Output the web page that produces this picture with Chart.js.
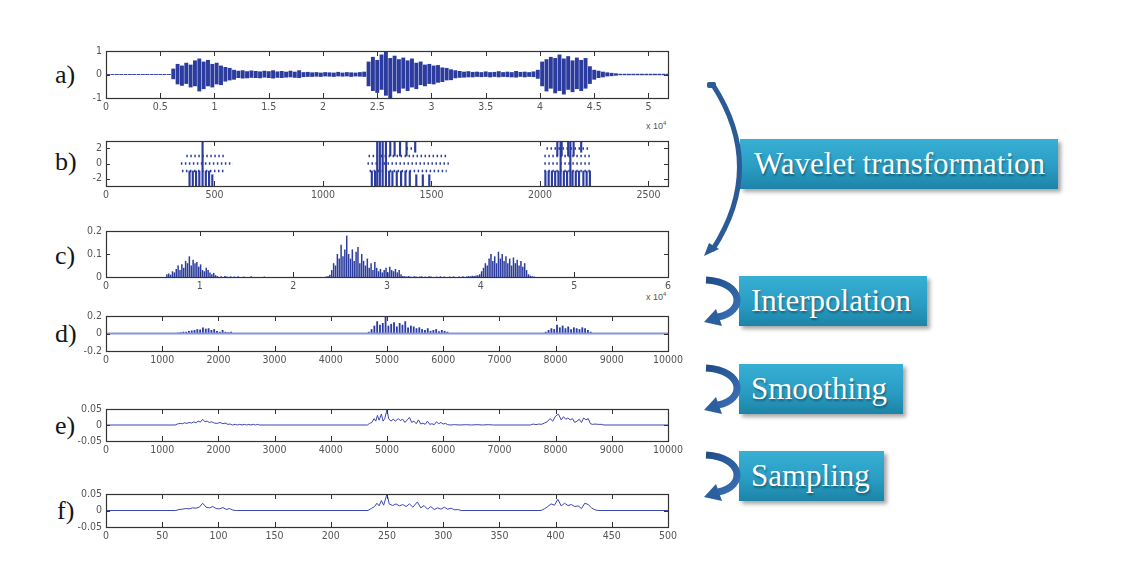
<!DOCTYPE html>
<html>
<head>
<meta charset="utf-8">
<script src="https://cdn.jsdelivr.net/npm/chart.js"></script>
<style>
  html, body { margin: 0; padding: 0; background: #fff; }
  #stage { position: relative; width: 1134px; height: 576px; overflow: hidden; }
  .letter { position: absolute; font-family: "Liberation Serif", "Times New Roman", serif; font-size: 26px; line-height: 26px; color: #151515; }
  .exp { position: absolute; font-family: "Liberation Sans Narrow", "Liberation Sans", Arial, sans-serif; font-size: 9px; color: #555; white-space: nowrap; }
  .exp sup { font-size: 6px; vertical-align: 4px; }
  .step { position: absolute; height: 50px; box-sizing: border-box; white-space: nowrap;
    background: linear-gradient(to bottom, #38afd4 0%, #2a9dc4 55%, #1c84a7 100%);
    box-shadow: 3px 3px 4px rgba(0,0,0,0.35);
    color: #fff; font-family: "Liberation Serif", "Times New Roman", serif; font-size: 31px; line-height: 50px;
    text-shadow: 1px 2px 2px rgba(0,0,0,0.35); }
  svg { position: absolute; left: 0; top: 0; }
</style>
</head>
<body>
<div id="stage">
  <div class="letter" style="left:55px;top:62px">a)</div>
  <div class="letter" style="left:55px;top:149px">b)</div>
  <div class="letter" style="left:55px;top:243px">c)</div>
  <div class="letter" style="left:55px;top:321px">d)</div>
  <div class="letter" style="left:55px;top:413px">e)</div>
  <div class="letter" style="left:57px;top:498px">f)</div>

  <div class="exp" style="left:646px;top:120px">x 10<sup>4</sup></div>
  <div class="exp" style="left:646px;top:291px">x 10<sup>4</sup></div>

  <div class="step" style="left:740px;top:139px;width:318px;padding-left:14px">Wavelet transformation</div>
  <div class="step" style="left:739px;top:276px;width:188px;padding-left:12px">Interpolation</div>
  <div class="step" style="left:739px;top:364px;width:164px;padding-left:12px">Smoothing</div>
  <div class="step" style="left:739px;top:451px;width:145px;padding-left:12px">Sampling</div>

  <svg width="1134" height="576" id="arrows">
    <defs>
      <linearGradient id="ag" x1="0" y1="0" x2="1" y2="1">
        <stop offset="0" stop-color="#1f4d8a"/>
        <stop offset="1" stop-color="#3a70b4"/>
      </linearGradient>
    </defs>
    <path d="M713 85 Q766 167 713 249" fill="none" stroke="#2b5b96" stroke-width="5" stroke-linecap="round"/>
    <rect x="707" y="82" width="9" height="6" rx="2" fill="#2b5b96"/>
    <polygon points="704,256 709,243 719,249" fill="#2b5b96"/>
  </svg>
</div>

<script>
// a) raw signal: envelope per bin of 0.04 (x 10^4 samples)
const aBinWidth = 0.04;
const aUpper = [
  0.02,0.02,0.02,0.02,0.02,0.02,0.02,0.02,0.02,0.02,0.02,0.02,0.02,0.02,0.02,
  0.25,
  0.45,0.38,0.5,0.42,0.6,0.68,0.55,0.62,0.45,0.5,0.38,0.32,0.28,0.2,
  0.16,0.18,0.14,0.17,0.15,0.13,0.16,0.14,0.18,0.13,0.15,0.12,0.16,0.12,0.18,
  0.1,0.11,0.09,0.1,0.08,0.1,0.09,0.08,0.11,0.08,0.1,0.09,0.08,0.1,0.12,
  0.55,0.75,0.62,0.85,1.0,0.7,0.8,0.65,0.72,0.6,0.68,0.5,0.55,0.42,0.45,0.38,0.4,0.3,0.28,0.22,
  0.18,0.15,0.12,0.14,0.11,0.12,0.1,0.13,0.1,0.11,0.14,0.1,0.12,0.1,0.15,0.11,0.12,0.1,0.13,0.2,
  0.55,0.65,0.75,0.7,0.85,0.68,0.78,0.6,0.72,0.62,0.7,0.35,0.2,0.16,0.12,0.09,0.07,0.05,
  0.03,0.03,0.03,0.03,0.03,0.03,0.03,0.03,0.03,0.03,0.03,0.03
];
const aLower = [
  -0.02,-0.02,-0.02,-0.02,-0.02,-0.02,-0.02,-0.02,-0.02,-0.02,-0.02,-0.02,-0.02,-0.02,-0.02,
  -0.2,
  -0.42,-0.48,-0.4,-0.55,-0.5,-0.72,-0.62,-0.5,-0.55,-0.42,-0.45,-0.3,-0.25,-0.22,
  -0.15,-0.17,-0.16,-0.14,-0.15,-0.16,-0.13,-0.15,-0.17,-0.14,-0.15,-0.13,-0.12,-0.14,-0.15,
  -0.11,-0.1,-0.1,-0.09,-0.1,-0.08,-0.09,-0.1,-0.08,-0.09,-0.08,-0.1,-0.08,-0.09,-0.1,
  -0.5,-0.7,-0.78,-0.65,-0.9,-1.0,-0.72,-0.8,-0.6,-0.7,-0.55,-0.62,-0.45,-0.5,-0.4,-0.42,-0.35,-0.32,-0.25,-0.24,
  -0.16,-0.14,-0.13,-0.12,-0.12,-0.1,-0.11,-0.1,-0.12,-0.1,-0.12,-0.1,-0.11,-0.12,-0.13,-0.1,-0.12,-0.1,-0.11,-0.18,
  -0.5,-0.72,-0.6,-0.8,-0.7,-0.85,-0.65,-0.75,-0.62,-0.7,-0.6,-0.4,-0.22,-0.15,-0.12,-0.08,-0.07,-0.05,
  -0.03,-0.03,-0.03,-0.03,-0.03,-0.03,-0.03,-0.03,-0.03,-0.03,-0.03,-0.03
];
const aXTicks = [0, 0.5, 1, 1.5, 2, 2.5, 3, 3.5, 4, 4.5, 5];
const aYTicks = [-1, 0, 1];

// b) quantised wavelet coefficients: dotted rows and vertical strokes
const bRowLevel = [1, 0, -1, 2, 1, 0, -1, 2, 1, 0, -1];
const bRowFrom  = [370, 345, 350, 1385, 1210, 1205, 1215, 2030, 2020, 2020, 2020];
const bRowTo    = [545, 585, 545, 1440, 1570, 1580, 1570, 2230, 2236, 2236, 2236];
const bStrokeX  = [445, 385, 400, 415, 430, 460, 475, 490,
  1250, 1262, 1275, 1290, 1310, 1330, 1355, 1385, 1425,
  1225, 1240, 1305, 1320, 1340, 1360, 1380, 1400, 1430, 1460, 1490,
  2080, 2100, 2130, 2155, 2190, 2095, 2140,
  2025, 2040, 2055, 2070, 2085, 2110, 2125, 2150, 2165, 2180, 2200, 2215, 2230];
const bStrokeLo = [-3, -3, -3, -3, -3, -3, -3, -3,
  -3, -3, -3, -3, 1, 1, 1, 1, 1.5,
  -3, -3, -3, -3, -3, -3, -3, -3, -3, -3, -3,
  1, 1, 1, 1, 1.5, -3, -3,
  -3, -3, -3, -3, -3, -3, -3, -3, -3, -3, -3, -3, -3];
const bStrokeHi = [3, -1, -1, -1, -1, -1, -1, -1.5,
  3, 3, 3, 3, 3, 3, 3, 3, 3,
  -1, -1, -1, -1, -1, -1, -1, -1, -1.5, -1.5, -1.5,
  3, 3, 3, 3, 3, 3, 3,
  -1, -1, -1, -1, -1, -1, -1, -1, -1, -1, -1, -1, -1];
const bXTicks = [0, 500, 1000, 1500, 2000, 2500];
const bYTicks = [-2, 0, 2];

// c) coefficient magnitudes, bins of 0.02 from 0.6 (x 10^4)
const cStart = 0.6, cStep = 0.02;
const cHeights = [
  0, 0, 0.012, 0.015, 0.01,
  0.025, 0.02, 0.035, 0.05, 0.03,
  0.055, 0.04, 0.07, 0.06, 0.09,
  0.05, 0.075, 0.06, 0.065, 0.045,
  0.055, 0.03, 0.025, 0.04, 0.03,
  0.02, 0.012, 0.018, 0.008,
  0.004,0,0.003,0,0.004,0.002,0,0.003,0,0.002, 0,0.003,0,0,0.002,0,0,0,0.003,0,
  0,0,0,0,0,0.002,0,0,0,0, 0,0,0,0,0,0,0,0,0,0, 0,0,0,0,0,0,0,0,0,0,
  0,0,0,0,0,0,0,0,0.002,0.004, 0.01,
  0.03, 0.06, 0.05, 0.1, 0.08,
  0.14, 0.09, 0.12, 0.18, 0.1,
  0.08, 0.12, 0.07, 0.11, 0.13,
  0.06, 0.1, 0.07, 0.05, 0.08,
  0.04, 0.06, 0.03, 0.065, 0.04,
  0.025, 0.035, 0.02, 0.03, 0.04,
  0.02, 0.045, 0.03, 0.025, 0.035,
  0.02, 0.03, 0.012,
  0.004,0.003,0.002,0.004,0.002,0,0.003,0.002,0,0.002, 0.003,0,0.002,0,0.003,0.002,0,0,0.002,0,
  0.003,0,0.002,0,0,0.002,0,0.003,0,0, 0.002,0,0.003,0,0.002,0.004,0.003,0.005,0.004,0.006,
  0.008, 0.012,
  0.025, 0.04, 0.06, 0.05, 0.08,
  0.1, 0.07, 0.09, 0.06, 0.11,
  0.08, 0.1, 0.07, 0.09, 0.06,
  0.08, 0.05, 0.085, 0.06, 0.075,
  0.05, 0.07, 0.045, 0.06, 0.03,
  0.012, 0.006, 0.003, 0.002, 0
];
const cXTicks = [0, 1, 2, 3, 4, 5, 6];
const cYTicks = [0, 0.1, 0.2];

// d) interpolated magnitudes, bins of 50 from 1200
const dStart = 1200, dStep = 50;
const dHeights = [
  0,
  0.01, 0.015, 0.02, 0.02,
  0.03, 0.035, 0.04, 0.05, 0.045,
  0.07, 0.055, 0.06, 0.04, 0.05,
  0.03, 0.02, 0.04, 0.02, 0.015,
  0.02, 0.004, 0.003, 0.002, 0.003, 0.002, 0.002, 0.003, 0.002, 0,
  0,0,0.002,0,0,0,0,0,0,0, 0,0,0,0,0,0.002,0,0,0,0, 0,0,0,0,0,0,0,0,0,0, 0,0,0,0,0,0,0,0,0.003,
  0.02, 0.05, 0.09, 0.14,
  0.1, 0.12, 0.2, 0.09,
  0.11, 0.13, 0.08, 0.12,
  0.1, 0.14, 0.07, 0.09,
  0.08, 0.06, 0.07, 0.05,
  0.04, 0.06, 0.03, 0.04,
  0.05, 0.025, 0.04, 0.03,
  0.02, 0.004, 0.002,
  0,0.002,0,0,0.002,0,0,0,0.002,0, 0,0,0.002,0,0,0,0.002,0,0,0, 0,0,0,0,0,0,0.002,0,0.003,0, 0.002,0.004,
  0.02, 0.04, 0.06, 0.05,
  0.1, 0.07, 0.09, 0.06,
  0.08, 0.05, 0.07, 0.06,
  0.05, 0.07, 0.06, 0.04,
  0.02, 0.004, 0.003, 0.002, 0.002, 0
];
const dXTicks = [0, 1000, 2000, 3000, 4000, 5000, 6000, 7000, 8000, 9000, 10000];
const dYTicks = [-0.2, 0, 0.2];

// e) smoothed curve
const eX = [0,1230,1270,1320,1360,1400,1440,1480,1520,1560,1600,1640,1680,1720,1760,1800,1840,1880,1930,1980,2030,2080,2120,2170,2210,2250,2300,2340,2380,2420,2460,2500,2540,2580,2620,2660,2700,2730,
  4650,4690,4730,4770,4800,4830,4860,4900,4930,4960,5000,5030,5070,5110,5150,5200,5240,5280,5320,5360,5400,5440,5480,5520,5560,5600,5640,5680,5720,5760,5800,5840,5880,5920,5960,6000,6040,6080,6120,6200,6300,6400,6500,6600,6700,6800,6900,
  7550,7600,7650,7700,7750,7800,7850,7900,7950,8000,8050,8100,8140,8180,8220,8260,8300,8340,8380,8420,8460,8500,8540,8580,8620,8660,8700,8760,8820,8860,10000];
const eY = [0,0,0.003,0.005,0.004,0.007,0.005,0.008,0.006,0.01,0.007,0.012,0.009,0.018,0.01,0.012,0.008,0.01,0.006,0.005,0.008,0.004,0.006,0.002,0.003,0,0.002,0,0.002,0,0.002,0,0.002,0,0.002,0,0.002,0,
  0,0.005,0.008,0.02,0.012,0.03,0.015,0.034,0.012,0.02,0.048,0.02,0.012,0.018,0.012,0.02,0.014,0.018,0.008,0.016,0.024,0.008,0.012,0.004,0.016,0.003,0.006,0.002,0.012,0.002,0.004,0.001,0.01,0.004,0.008,0.003,0.005,0.001,0,0.001,0,0.001,0,0.001,0,0.001,0,
  0,0.003,0.001,0.003,0.002,0.006,0.01,0.02,0.012,0.028,0.034,0.016,0.026,0.018,0.022,0.016,0.02,0.008,0.012,0.018,0.008,0.022,0.016,0.02,0.004,0.002,0.003,0.002,0.002,0,0];
const eXTicks = dXTicks;
const eYTicks = [-0.05, 0, 0.05];

// f) sampled curve
const fX = [0,62,65,68,71,74,77,80,83,86,89,92,95,98,101,104,107,110,113,116,
  233,236,239,241,243,245,247,250,252,255,258,261,264,267,270,273,277,280,283,286,289,292,295,298,301,304,307,310,313,316,
  387,390,393,396,399,402,405,408,411,414,417,420,423,426,429,432,435,438,500];
const fY = [0,0,0.003,0.004,0.006,0.005,0.008,0.007,0.01,0.022,0.01,0.008,0.012,0.006,0.005,0.009,0.003,0.006,0.001,0,
  0,0.006,0.012,0.022,0.014,0.03,0.016,0.05,0.02,0.015,0.02,0.014,0.018,0.012,0.02,0.01,0.026,0.008,0.015,0.004,0.012,0.003,0.008,0.004,0.01,0.004,0.007,0.002,0.003,0,
  0,0.005,0.012,0.02,0.016,0.034,0.014,0.022,0.015,0.018,0.012,0.014,0.006,0.022,0.018,0.008,0.002,0,0];
const fXTicks = [0, 50, 100, 150, 200, 250, 300, 350, 400, 450, 500];
const fYTicks = [-0.05, 0, 0.05];

// layout of the stacked axes
const BOX_LEFT = 106, BOX_RIGHT = 668;
const Y_AXIS_W = 50, PAD_TOP = 8, PAD_RIGHT = 30, X_AXIS_H = 24;
const SIGNAL = "#2b3c9e";
const tickFont = { family: "'Liberation Sans Narrow','DejaVu Sans Condensed','Liberation Sans',sans-serif", size: 10.5 };

const stage = document.getElementById("stage");

// MATLAB-like box with inward ticks on all four sides
const matlabFrame = {
  id: "matlabFrame",
  afterDatasetsDraw(chart) {
    const { ctx, chartArea: a } = chart;
    const x = chart.scales.x, y = chart.scales.y;
    ctx.save();
    ctx.strokeStyle = "#333";
    ctx.lineWidth = 1;
    ctx.beginPath();
    x.ticks.forEach((t) => {
      const px = Math.round(x.getPixelForValue(t.value)) + 0.5;
      if (px <= a.left + 2 || px >= a.right - 2) return;
      ctx.moveTo(px, a.bottom); ctx.lineTo(px, a.bottom - 5);
      ctx.moveTo(px, a.top); ctx.lineTo(px, a.top + 5);
    });
    y.ticks.forEach((t) => {
      const py = Math.round(y.getPixelForValue(t.value)) + 0.5;
      if (py <= a.top + 2 || py >= a.bottom - 2) return;
      ctx.moveTo(a.left, py); ctx.lineTo(a.left + 4, py);
      ctx.moveTo(a.right, py); ctx.lineTo(a.right - 4, py);
    });
    ctx.stroke();
    ctx.lineWidth = 1.2;
    ctx.strokeRect(Math.round(a.left) + 0.5, Math.round(a.top) + 0.5, Math.round(a.width), Math.round(a.height));
    ctx.restore();
  }
};

function panel(top, height, xr, xTicks, yr, yTicks, datasets) {
  const canvas = document.createElement("canvas");
  const w = Y_AXIS_W + (BOX_RIGHT - BOX_LEFT) + PAD_RIGHT;
  const h = PAD_TOP + height + X_AXIS_H;
  canvas.width = w;
  canvas.height = h;
  canvas.style.cssText = `position:absolute;left:${BOX_LEFT - Y_AXIS_W}px;top:${top - PAD_TOP}px;width:${w}px;height:${h}px`;
  stage.appendChild(canvas);
  return new Chart(canvas, {
    type: "bar",
    data: { datasets },
    options: {
      responsive: false,
      animation: false,
      devicePixelRatio: 1,
      layout: { padding: { top: PAD_TOP, right: PAD_RIGHT, left: 0, bottom: 0 } },
      plugins: { legend: { display: false }, tooltip: { enabled: false } },
      scales: {
        x: {
          type: "linear", min: xr[0], max: xr[1], offset: false,
          grid: { display: false, drawTicks: false }, border: { display: false },
          ticks: { autoSkip: false, maxRotation: 0, padding: 3, font: tickFont, color: "#555", callback: (v) => String(v) },
          afterBuildTicks: (s) => { s.ticks = xTicks.map((v) => ({ value: v })); },
          afterFit: (s) => { s.height = X_AXIS_H; s.paddingLeft = 0; s.paddingRight = 0; }
        },
        y: {
          type: "linear", min: yr[0], max: yr[1],
          grid: { display: false, drawTicks: false }, border: { display: false },
          ticks: { autoSkip: false, padding: 4, font: tickFont, color: "#555", callback: (v) => String(v) },
          afterBuildTicks: (s) => { s.ticks = yTicks.map((v) => ({ value: v })); },
          afterFit: (s) => { s.width = Y_AXIS_W; s.paddingTop = 0; s.paddingBottom = 0; }
        }
      }
    },
    plugins: [matlabFrame]
  });
}

// a) envelope drawn as floating bars per bin
panel(51, 47, [0, 5.18], aXTicks, [-1, 1], aYTicks, [{
  data: aUpper.map((u, i) => ({ x: (i + 0.5) * aBinWidth, y: [aLower[i], u] })),
  backgroundColor: SIGNAL, barPercentage: 0.9, categoryPercentage: 1, borderWidth: 0
}]);

// b)
const bRows = [];
bRowLevel.forEach((lv, i) => {
  bRows.push({ x: bRowFrom[i], y: lv }, { x: bRowTo[i], y: lv }, { x: bRowTo[i], y: null });
});
panel(141, 45, [0, 2590], bXTicks, [-3, 3], bYTicks, [
  { type: "line", data: bRows, borderColor: SIGNAL, borderWidth: 2.5, borderDash: [1.5, 2.5], pointRadius: 0, spanGaps: false },
  { data: bStrokeX.map((x, i) => ({ x, y: [bStrokeLo[i], bStrokeHi[i]] })), backgroundColor: SIGNAL, barThickness: 1.5 }
]);

// c)
panel(231, 46, [0, 6], cXTicks, [0, 0.2], cYTicks, [{
  data: cHeights.map((v, i) => ({ x: cStart + (i + 0.5) * cStep, y: v })),
  backgroundColor: SIGNAL, barPercentage: 0.8, categoryPercentage: 1, borderWidth: 0
}]);

// d)
panel(316, 35, [0, 10000], dXTicks, [-0.2, 0.2], dYTicks, [
  { type: "line", data: [{ x: 0, y: 0 }, { x: 10000, y: 0 }], borderColor: "#8796dc", borderWidth: 2, pointRadius: 0 },
  { data: dHeights.map((v, i) => ({ x: dStart + (i + 0.5) * dStep, y: v })),
    backgroundColor: SIGNAL, barPercentage: 0.65, categoryPercentage: 1, borderWidth: 0 }
]);

// e)
panel(409, 32, [0, 10000], eXTicks, [-0.05, 0.05], eYTicks, [{
  type: "line", data: eX.map((x, i) => ({ x, y: eY[i] })),
  borderColor: "#3a47ad", borderWidth: 1, pointRadius: 0, tension: 0
}]);

// f)
panel(494, 33, [0, 500], fXTicks, [-0.05, 0.05], fYTicks, [{
  type: "line", data: fX.map((x, i) => ({ x, y: fY[i] })),
  borderColor: "#3a47ad", borderWidth: 1, pointRadius: 0, tension: 0
}]);

// curved step arrows next to the boxes
const svg = document.getElementById("arrows");
[276, 364, 451].forEach((y0) => {
  svg.insertAdjacentHTML("beforeend",
    `<path d="M706 ${y0 + 4} C744 ${y0 + 6} 746 ${y0 + 36} 718 ${y0 + 41}" fill="none" stroke="url(#ag)" stroke-width="7"/>` +
    `<polygon points="704,${y0 + 46} 716,${y0 + 33} 722,${y0 + 50}" fill="#2c5f9e"/>`);
});
</script>
</body>
</html>
